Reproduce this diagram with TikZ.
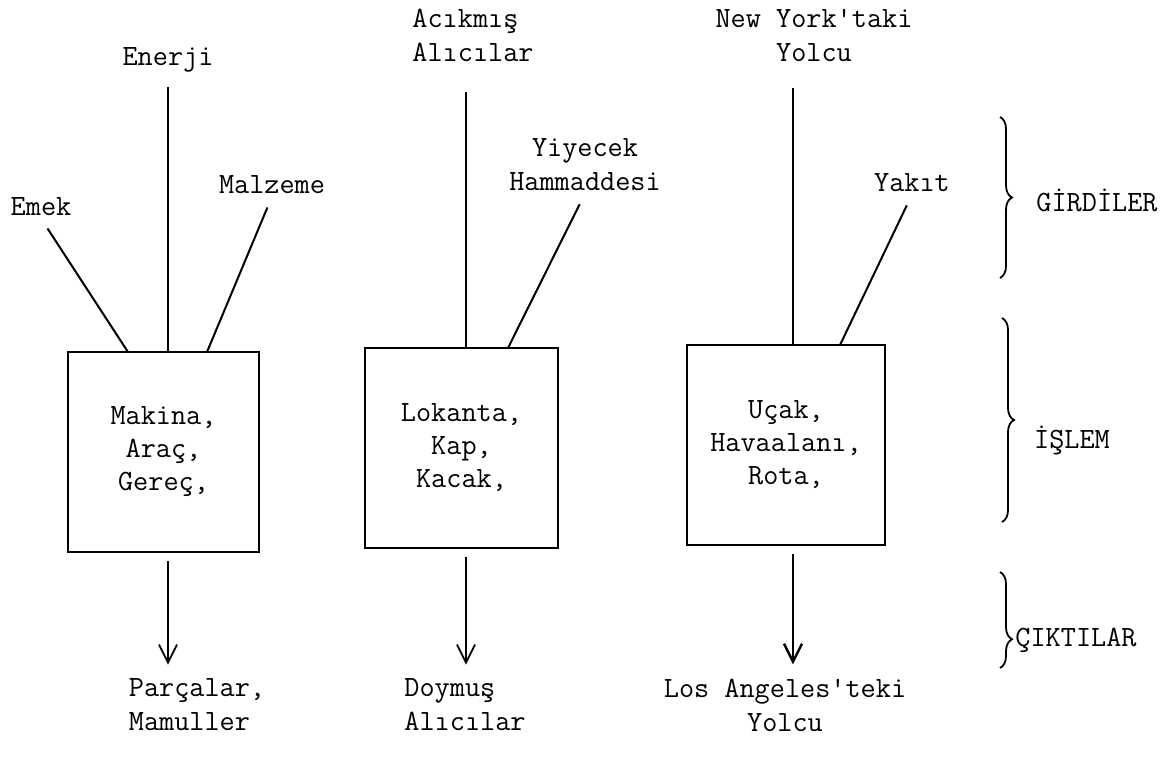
\documentclass[tikz,border=0pt]{standalone}
\usepackage{fontspec}
\usetikzlibrary{arrows.meta,decorations.pathreplacing}
\tikzset{
    word/.style = {
        font=\ttfamily\fontsize{14.7}{17}\selectfont,
        inner sep=1pt,
        },
    unit/.style = {
        draw,
        line width=1pt,
        font=\ttfamily\fontsize{14.7}{16.5}\selectfont,
        align=center,
        },
    feed/.style = {
        line width=1pt,
        shorten <=6pt,
        },
    yield/.style = {
        line width=0.9pt,
        -{Straight Barb[length=9pt,width=9pt]},
        shorten <=4pt,
        shorten >=6pt,
        },
    bracket/.style = {
        line width=0.9pt,
        decorate,
        decoration={brace,amplitude=6pt},
        }
}
\begin{document}
\begin{tikzpicture}[x=0.5pt,y=-0.5pt]
            \useasboundingbox (0,0) rectangle (1176,777);

            % processing boxes
            \node[unit, minimum width=95.5pt, minimum height=100pt] (makina) at (163.5,452) {Makina,\\Araç,\\Gereç,};
            \node[unit, minimum width=96.5pt, minimum height=100pt] (lokanta) at (461.5,448) {Lokanta,\\Kap,\\Kacak,};
            \node[unit, minimum width=99pt, minimum height=100pt] (ucak) at (786,445) {Uçak,\\Havaalanı,\\Rota,};

            % inputs
            \node[word] (enerji) at (168,60) {Enerji};
            \node[word] (emek) at (41,207) {Emek};
            \node[word] (malzeme) at (272,185) {Malzeme};
            \node[word, align=left] (acikmis) at (473,35) {Acıkmış\\Alıcılar};
            \node[word, align=center] (yiyecek) at (585,165) {Yiyecek\\Hammaddesi};
            \node[word, align=center] (newyork) at (814,35) {New York'taki\\Yolcu};
            \node[word] (yakit) at (912,183) {Yakıt};

            % outputs
            \node[word, align=left] (parca) at (197,705) {Parçalar,\\Mamuller};
            \node[word, align=left] (doymus) at (465,705) {Doymuş\\Alıcılar};
            \node[word, align=center] (losangeles) at (785,705) {Los Angeles'teki\\Yolcu};

            % groups
            \node[word] (girdi) at (1097,200) {GİRDİLER};
            \node[word] (islem) at (1072,440) {İŞLEM};
            \node[word] (cikti) at (1076,640) {ÇIKTILAR};

            \coordinate (emekin) at (128,352);
            \coordinate (malzin) at (207,352);
            \coordinate (yiyin) at (508,348);
            \coordinate (yakin) at (840,345);
            \coordinate (enerjix) at (168,0);
            \coordinate (acikx) at (466,0);
            \coordinate (nyx) at (793,0);

            \draw[feed] (enerjix |- enerji.south) -- (enerjix |- makina.north);
            \draw[feed] (emek.south) -- (emekin);
            \draw[feed] (malzeme.south) -- (malzin);
            \draw[feed, shorten <=14pt] (acikx |- acikmis.south) -- (acikx |- lokanta.north);
            \draw[feed] (yiyecek.south) -- (yiyin);
            \draw[feed, shorten <=12pt] (nyx |- newyork.south) -- (nyx |- ucak.north);
            \draw[feed] (yakit.south) -- (yakin);

            \draw[yield] (enerjix |- makina.south) -- (enerjix |- parca.north);
            \draw[yield] (acikx |- lokanta.south) -- (acikx |- doymus.north);
            \draw[yield, line width=1.2pt] (nyx |- ucak.south) -- (nyx |- losangeles.north);

            \draw[bracket] (1000,117) -- (1000,278);
            \draw[bracket] (1002,318) -- (1002,522);
            \draw[bracket, decoration={aspect=0.7}] (1000,572) -- (1000,668);
        \end{tikzpicture}
\end{document}
